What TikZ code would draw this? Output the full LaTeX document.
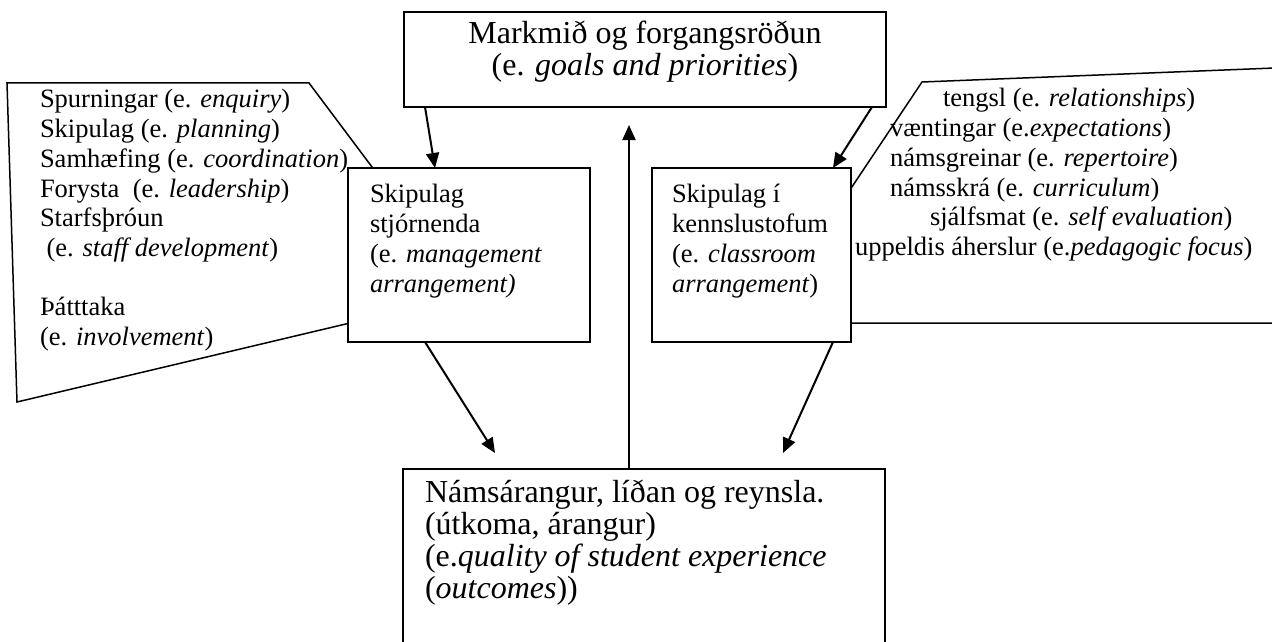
\documentclass[tikz,border=0pt]{standalone}
\usepackage{fontspec}
\setmainfont{Liberation Serif}
\usetikzlibrary{arrows.meta,calc}
\begin{document}
\begin{tikzpicture}[x=1pt,y=-1pt,
  box/.style={draw, line width=2pt, fill=white, anchor=north west, inner sep=0pt, outer sep=0pt},
  callout/.style={draw, line width=1.5pt, line join=miter},
  big/.style={font=\fontsize{32}{32}\selectfont},
  small/.style={font=\fontsize{26.5}{29.7}\selectfont},
  txt/.style={inner sep=0pt, outer sep=0pt, anchor=north west, align=left},
  arr/.style={line width=2pt, -{Triangle[length=15pt,width=13pt]}},
]
\useasboundingbox (0,0) rectangle (1272,642);
\clip (0,0) rectangle (1272,642);
% callouts
\draw[callout] (7,83) -- (309,83) -- (468,295) -- (17,402) -- cycle;
\draw[callout] (922,82) -- (1300,67) -- (1300,323) -- (761,323) -- cycle;
% boxes
\node[box, minimum width=482pt, minimum height=95pt] (topbox) at (404,12) {};
\node[box, minimum width=242pt, minimum height=174pt] (mgmt) at (348,168) {};
\node[box, minimum width=199pt, minimum height=174pt] (class) at (652,168) {};
\node[box, minimum width=482pt, minimum height=200pt] (outcome) at (403,469) {};
% texts
\node[txt, big, anchor=north, align=center] (toptext) at (645,20.6)
  {\strut Markmið og forgangsröðun\\(e. \textit{goals and priorities})};
\node[txt, small] (lefttext) at (40,87.2)
  {\strut Spurningar (e. \textit{enquiry})\\
   Skipulag (e. \textit{planning})\\
   Samhæfing (e. \textit{coordination})\\
   Forysta\ \ (e. \textit{leadership})\\
   Starfsþróun\\
   \ (e. \textit{staff development})\\
   \strut\\
   Þátttaka\\
   (e. \textit{involvement})};
\node[txt, small] (righttext) at (855,86.2)
  {\strut\hspace*{88pt}tengsl (e. \textit{relationships})\\
   \hspace*{35pt}væntingar (e.\textit{expectations})\\
   \hspace*{35pt}námsgreinar (e. \textit{repertoire})\\
   \hspace*{35pt}námsskrá (e. \textit{curriculum})\\
   \hspace*{75pt}sjálfsmat (e. \textit{self evaluation})\\
   uppeldis áherslur (e.\textit{pedagogic focus})};
\node[txt, small] (mgmttext) at (370,182.2)
  {\strut Skipulag\\stjórnenda\\(e. \textit{management}\\\textit{arrangement)}};
\node[txt, small] (classtext) at (672,182.2)
  {\strut Skipulag í\\kennslustofum\\(e. \textit{classroom}\\\textit{arrangement})};
\node[txt, big] (outtext) at (425,479.6)
  {\strut Námsárangur, líðan og reynsla.\\(útkoma, árangur)\\(e.\textit{quality of student experience}\\(\textit{outcomes}))};
% free ends
\coordinate (e1) at (495,453);
\coordinate (e2) at (783,453);
\coordinate (e3) at (629,125);
% arrows
\draw[arr] ($(topbox.south west)+(21,0)$) -- ($(mgmt.north west)+(87,0)$);
\draw[arr] ($(topbox.south east)+(-14,0)$) -- ($(class.north east)+(-18,0)$);
\draw[arr] ($(mgmt.south west)+(77,0)$) -- (e1);
\draw[arr] ($(class.south east)+(-18,0)$) -- (e2);
\draw[arr] ($(outcome.north west)+(226,0)$) -- (e3);
\end{tikzpicture}
\end{document}
